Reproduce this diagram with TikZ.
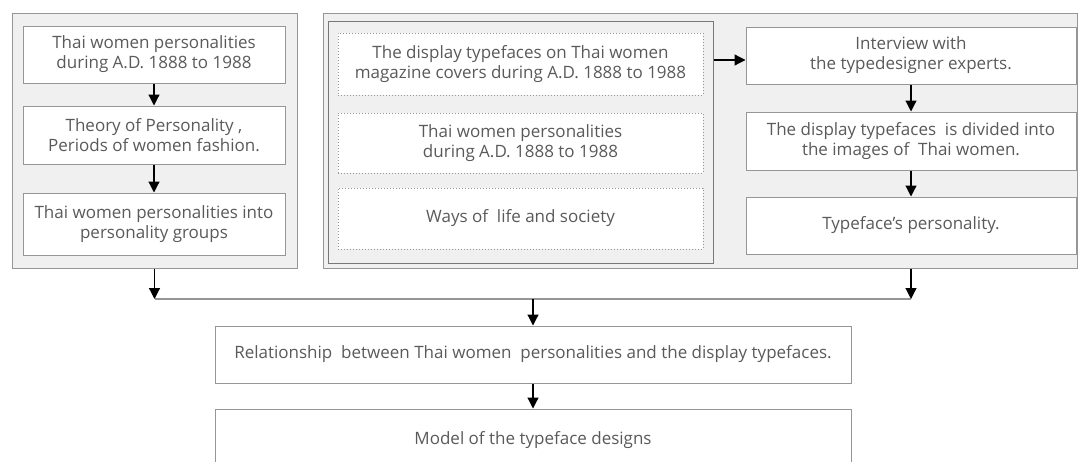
\documentclass[tikz,border=0pt]{standalone}
\usepackage{fontspec}
\setmainfont{Open Sans}
\usetikzlibrary{arrows.meta}
\definecolor{txt}{RGB}{90,90,90}
\definecolor{bord}{RGB}{150,150,150}
\definecolor{panelfill}{RGB}{240,240,240}
\definecolor{innerbord}{RGB}{120,120,120}
\tikzset{
  panel/.style={draw=bord, fill=panelfill, line width=1pt, inner sep=0pt},
  innerpanel/.style={draw=innerbord, fill=panelfill, line width=1pt, inner sep=0pt},
  solidbox/.style={draw=bord, fill=white, line width=1pt, inner sep=0pt, align=center,
    text=txt, font=\fontsize{17}{20}\selectfont},
  dotbox/.style={draw=bord, dotted, fill=white, line width=1pt, inner sep=0pt, align=center,
    text=txt, font=\fontsize{17}{20}\selectfont},
  arr/.style={draw=black, line width=1.2pt, -{Triangle[length=11pt,width=11pt]}},
  joinline/.style={draw=bord, line width=1.8pt}
}
\begin{document}
\begin{tikzpicture}[x=1pt,y=-1pt]
\clip (0,0) rectangle (1078,461);
\fill[white] (0,0) rectangle (1078,461);
% left panel
\node[panel, minimum width=285pt, minimum height=255pt] (LP) at (154.5,140.5) {};
\node[solidbox, minimum width=262pt, minimum height=57pt] (L1) at (154,54.5)
  {Thai women personalities\\during A.D. 1888 to 1988};
\node[solidbox, minimum width=262pt, minimum height=58pt] (L2) at (154,135)
  {Theory of Personality ,\\Periods of women fashion.};
\node[solidbox, minimum width=262pt, minimum height=62pt] (L3) at (154,224)
  {Thai women personalities into\\personality groups};
% right panel
\node[panel, minimum width=754pt, minimum height=255pt] (RP) at (700,140.5) {};
\node[innerpanel, minimum width=385pt, minimum height=242pt] (IP) at (520.5,142) {};
\node[dotbox, minimum width=365pt, minimum height=62pt] (D1) at (520.5,64)
  {The display typefaces on Thai women\\magazine covers during A.D. 1888 to 1988};
\node[dotbox, minimum width=365pt, minimum height=60pt] (D2) at (520.5,143)
  {Thai women personalities\\during A.D. 1888 to 1988};
\node[dotbox, minimum width=365pt, minimum height=61pt] (D3) at (520.5,218.5)
  {Ways of\ \ life and society};
\node[solidbox, minimum width=330pt, minimum height=57pt] (R1) at (911,55.5)
  {Interview with\\the typedesigner experts.};
\node[solidbox, minimum width=330pt, minimum height=58pt] (R2) at (911,141)
  {The display typefaces\ \ is divided into\\the images of\ \ Thai women.};
\node[solidbox, minimum width=330pt, minimum height=57pt] (R3) at (911,225.5)
  {Typeface's personality.};
% bottom
\node[solidbox, minimum width=636pt, minimum height=57pt] (REL) at (533,354.5)
  {Relationship\ \ between Thai women\ \ personalities and the display typefaces.};
\node[solidbox, minimum width=636pt, minimum height=62pt] (MOD) at (533,440)
  {Model of the typeface designs};
% connectors
\coordinate (J1) at (154.5,299);
\coordinate (J2) at (911,299);
\draw[arr] (L1) -- (L2);
\draw[arr] (L2) -- (L3);
\draw[arr] (IP.east |- 0,60) -- (R1.west |- 0,60);
\draw[arr] (R1) -- (R2);
\draw[arr] (R2) -- (R3);
\draw[joinline] (J1) -- (J2);
\draw[arr] (LP.south -| J1) -- (J1);
\draw[arr] (RP.south -| J2) -- (J2);
\draw[arr] (REL.north |- J1) -- (REL.north);
\draw[arr] (REL) -- (MOD);
\end{tikzpicture}
\end{document}
